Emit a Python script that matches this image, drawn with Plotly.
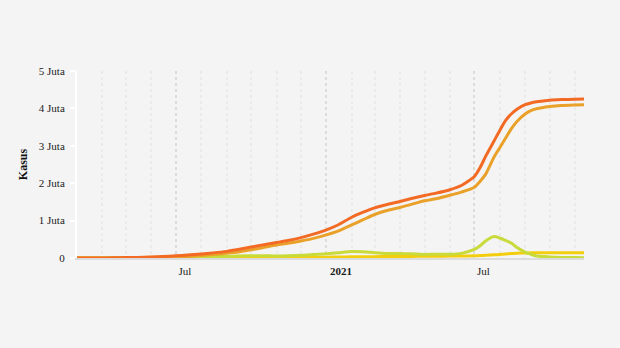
import plotly.graph_objects as go

# Indonesia COVID-19 cumulative figures (in people)
dates = [
    "2020-03-02", "2020-03-15", "2020-04-01", "2020-04-15", "2020-05-01", "2020-05-15",
    "2020-06-01", "2020-06-15", "2020-07-01", "2020-07-15", "2020-08-01", "2020-08-15",
    "2020-09-01", "2020-09-15", "2020-10-01", "2020-10-15", "2020-11-01", "2020-11-15",
    "2020-12-01", "2020-12-15", "2021-01-01", "2021-01-15", "2021-02-01", "2021-02-15",
    "2021-03-01", "2021-03-15", "2021-04-01", "2021-04-15", "2021-05-01", "2021-05-15",
    "2021-06-01", "2021-06-15", "2021-07-01", "2021-07-08", "2021-07-15", "2021-07-25",
    "2021-08-01", "2021-08-08", "2021-08-15", "2021-08-22", "2021-09-01", "2021-09-08",
    "2021-09-15", "2021-10-01", "2021-10-15", "2021-11-01", "2021-11-12",
]

total_cases = [
    2, 117, 1700, 5100, 10500, 16500,
    27000, 39000, 57800, 78600, 109000, 137000,
    177000, 226000, 292000, 350000, 413000, 467000,
    544000, 630000, 751000, 882000, 1089000, 1224000,
    1341000, 1425000, 1512000, 1589000, 1672000, 1734000,
    1826000, 1938000, 2178000, 2420000, 2730000, 3130000,
    3410000, 3670000, 3850000, 3980000, 4100000, 4145000,
    4175000, 4219000, 4235000, 4245000, 4250000,
]

recovered = [
    0, 8, 100, 450, 2000, 3800,
    7900, 15000, 25600, 37600, 67900, 91300,
    127000, 161000, 220000, 275000, 345000, 392000,
    455000, 517000, 618000, 718000, 886000, 1025000,
    1163000, 1264000, 1350000, 1434000, 1530000, 1585000,
    1677000, 1761000, 1890000, 2050000, 2250000, 2700000,
    2950000, 3200000, 3450000, 3650000, 3850000, 3940000,
    3990000, 4050000, 4080000, 4094000, 4100000,
]

active = [
    0, 100, 1440, 4200, 7700, 11600,
    17500, 21800, 29300, 37300, 36100, 39700,
    42500, 56000, 61100, 62800, 54100, 59800,
    71900, 93900, 110900, 138800, 172700, 165800,
    141700, 122400, 121000, 111800, 96100, 100900,
    98300, 123900, 228000, 329000, 459600, 574000,
    535000, 470000, 400000, 280000, 160000, 100000,
    55000, 30000, 16000, 11000, 9000,
]

deaths = [
    0, 5, 157, 470, 800, 1080,
    1640, 2200, 2880, 3700, 5200, 6000,
    7500, 9000, 10900, 12200, 13900, 15200,
    17100, 19100, 22100, 25200, 30300, 33200,
    36300, 38600, 41000, 43200, 45900, 48100,
    50700, 53100, 58000, 63800, 71400, 84000,
    95700, 108600, 117600, 127200, 134400, 137500,
    139100, 141800, 142900, 143400, 143600,
]

y_ticks = [0, 1_000_000, 2_000_000, 3_000_000, 4_000_000, 5_000_000]
y_tick_labels = ["0", "1 Juta", "2 Juta", "3 Juta", "4 Juta", "5 Juta"]
x_ticks = ["2020-07-01", "2021-01-01", "2021-07-01"]
x_tick_labels = ["Jul", "\u2002\u2002<b>2021</b>", "Jul"]

series = [
    ("Meninggal", deaths, "#F3CE0E"),
    ("Aktif", active, "#C9DA3B"),
    ("Sembuh", recovered, "#E9A12A"),
    ("Positif", total_cases, "#F26A23"),
]

fig = go.Figure()
for name, values, color in series:
    fig.add_trace(go.Scatter(
        x=dates, y=values, name=name, mode="lines",
        line=dict(color=color, width=3, shape="spline", smoothing=0.6),
    ))

font_family = "Liberation Serif, Times New Roman, serif"

fig.update_layout(
    width=620, height=348,
    margin=dict(l=77, r=36, t=71, b=90),
    paper_bgcolor="#F4F4F4",
    plot_bgcolor="#F4F4F4",
    showlegend=False,
    font=dict(family=font_family, size=11, color="#333333"),
    xaxis=dict(
        type="date",
        range=["2020-03-02", "2021-11-12"],
        tickvals=x_ticks,
        ticktext=x_tick_labels,
        ticklabelshift=9,
        ticklabelstandoff=2,
        ticks="",
        showgrid=True,
        gridcolor="#DCDCDC",
        griddash="dot",
        gridwidth=2,
        minor=dict(dtick="M1", tick0="2020-03-01", showgrid=True,
                   gridcolor="#EAEAEA", griddash="dot", gridwidth=2),
        showline=True,
        linecolor="#DCDCDC",
        linewidth=2,
        zeroline=False,
        tickfont=dict(size=11, color="#1A1A1A"),
    ),
    yaxis=dict(
        range=[0, 5_000_000],
        tickvals=y_ticks,
        ticktext=y_tick_labels,
        showgrid=False,
        zeroline=False,
        showline=True,
        linecolor="#FFFFFF",
        linewidth=2,
        ticks="outside",
        ticklen=5,
        tickwidth=2,
        tickcolor="#FFFFFF",
        ticklabelstandoff=3,
        tickfont=dict(size=11, color="#222222"),
        title=dict(text="<b>Kasus</b>", font=dict(size=12, color="#111111"), standoff=9),
    ),
)

fig.write_html("out.html")
